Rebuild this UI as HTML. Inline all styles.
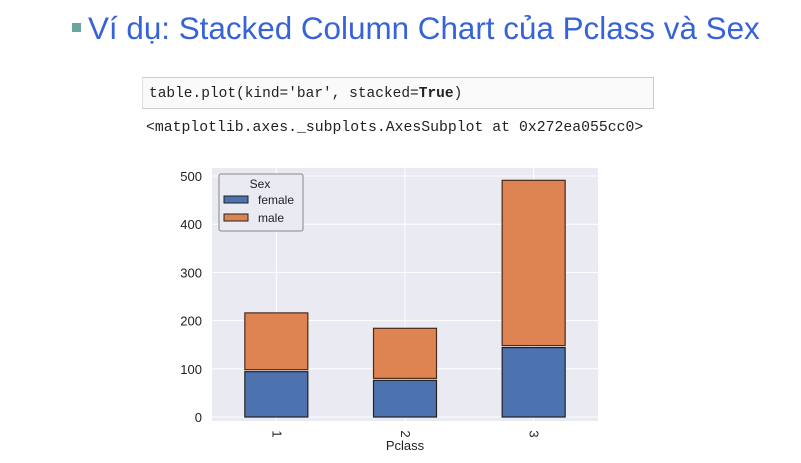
<!DOCTYPE html>
<html><head><meta charset="utf-8"><style>
body{margin:0;width:801px;height:463px;background:#fff;overflow:hidden;position:relative;font-family:"Liberation Sans",sans-serif}
#title{position:absolute;left:72px;top:11px;font-size:31.4px;color:#3763d8;white-space:nowrap}
#title .b{display:inline-block;width:9px;height:9px;background:#6aa6a0;margin-right:7px;vertical-align:middle;position:relative;top:-3px}
#code{position:absolute;left:142px;top:77px;width:512px;height:32px;border:1px solid #ccc;border-left:1px solid #ddd;background:#fafafa;font-family:"Liberation Mono",monospace;font-size:14.5px;line-height:32px;padding-left:6px;box-sizing:border-box;color:#222}
#out{position:absolute;left:146px;top:120px;font-family:"Liberation Mono",monospace;font-size:14.8px;color:#222}
svg{position:absolute;left:0;top:0}
</style></head><body>
<div id="title"><span class="b"></span>Ví dụ: Stacked Column Chart của Pclass và Sex</div>
<div id="code">table.plot(kind='bar', stacked=<b>True</b>)</div>
<div id="out">&lt;matplotlib.axes._subplots.AxesSubplot at 0x272ea055cc0&gt;</div>
<svg id="chart" width="801" height="463"></svg>
<script>
const categories=["1","2","3"];
const female=[94,76,144];
const male=[122,108,347];
const yTicks=[0,100,200,300,400,500];
const NS="http://www.w3.org/2000/svg";
const svg=document.getElementById('chart');
const L=212,R=598,T=168,y0=417,y500=176;
const y=v=>y0-(y0-y500)*v/500;
const step=(R-L)/categories.length;
const xc=i=>L+step*(i+0.5);
const bw=63;
function mk(t,a,p){const e=document.createElementNS(NS,t);for(const k in a)e.setAttribute(k,a[k]);(p||svg).appendChild(e);return e;}
const bg=mk('rect',{x:L,y:T,width:R-L,height:y0-T+4,fill:'#eaeaf2'});


yTicks.forEach(t=>{
  const g=mk('line',{x1:L,x2:R,y1:y(t),y2:y(t),stroke:'#fff','stroke-width':1});
  
  
  const tx=mk('text',{x:L-10,y:y(t)+5,'text-anchor':'end','font-size':13,fill:'#222'});
  tx.textContent=t;
  
  
});
categories.forEach((c,i)=>{
  const g=mk('line',{x1:xc(i),x2:xc(i),y1:T,y2:y0+4,stroke:'#fff','stroke-width':1});
  
  
});
categories.forEach((c,i)=>{
  const f=mk('rect',{x:xc(i)-bw/2,y:y(female[i]),width:bw,height:y(0)-y(female[i]),fill:'#4c72b0',stroke:'#222','stroke-width':1.2});
  
  
  const m=mk('rect',{x:xc(i)-bw/2,y:y(female[i]+male[i]),width:bw,height:y(female[i])-y(female[i]+male[i])-2,fill:'#dd8452',stroke:'#4a2a1a','stroke-width':1.2});
  
  
  const tx=mk('text',{x:0,y:0,'text-anchor':'middle','font-size':13,fill:'#222',transform:`translate(${xc(i)-4},${y0+17}) rotate(90)`});
  tx.textContent=c;
  
  
});
const xt=mk('text',{x:xc(1),y:450,'text-anchor':'middle','font-size':13,fill:'#222'});
xt.textContent='Pclass';


const lg=mk('g',{});


mk('rect',{x:219,y:174,width:84,height:57,fill:'#eaeaf2',stroke:'#888','stroke-width':1,rx:2},lg);
const lt=mk('text',{x:260,y:188,'text-anchor':'middle','font-size':12,fill:'#222'},lg);lt.textContent='Sex';
[['female','#4c72b0',200],['male','#dd8452',218]].forEach(([n,col,yy])=>{
  const r=mk('rect',{x:224,y:yy-4,width:24,height:7,fill:col,stroke:'#222','stroke-width':1},lg);
  
  
  const t=mk('text',{x:258,y:yy+4,'font-size':12,fill:'#222'},lg);t.textContent=n;
  
  
});
</script>
</body></html>
